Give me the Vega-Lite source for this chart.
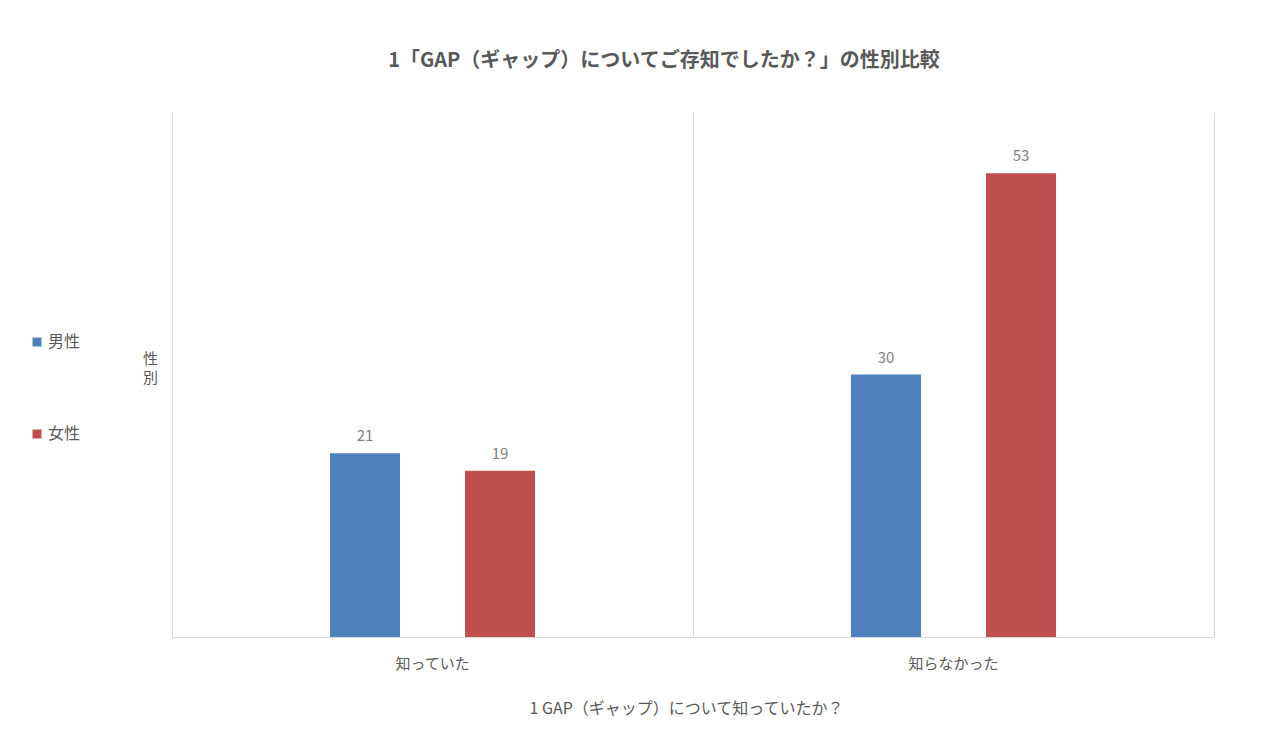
{
  "$schema": "https://vega.github.io/schema/vega-lite/v6.json",
  "autosize": "none",
  "width": 1042,
  "height": 525,
  "padding": {"left": 172, "top": 112, "right": 55, "bottom": 103},
  "background": "white",
  "config": {
    "font": "Noto Sans CJK JP",
    "view": {"stroke": null}
  },
  "title": {
    "text": "1「GAP（ギャップ）についてご存知でしたか？」の性別比較",
    "anchor": "middle",
    "frame": "group",
    "fontSize": 20,
    "fontWeight": "bold",
    "color": "#595959",
    "offset": 41,
    "dx": -29
  },
  "data": {
    "values": [
      {"cat": "知っていた", "sex": "男性", "n": 21},
      {"cat": "知っていた", "sex": "女性", "n": 19},
      {"cat": "知らなかった", "sex": "男性", "n": 30},
      {"cat": "知らなかった", "sex": "女性", "n": 53}
    ]
  },
  "encoding": {
    "x": {
      "field": "cat",
      "type": "nominal",
      "sort": ["知っていた", "知らなかった"],
      "scale": {"paddingInner": 0.0883, "paddingOuter": 0.0442},
      "axis": {
        "title": "1 GAP（ギャップ）について知っていたか？",
        "titleFontSize": 16,
        "titleFontWeight": "normal",
        "titleColor": "#595959",
        "titlePadding": 29,
        "titleX": 514,
        "titleAlign": "center",
        "labelAngle": 0,
        "labelFontSize": 15,
        "labelColor": "#595959",
        "labelPadding": 19,
        "ticks": false,
        "grid": true,
        "gridColor": "#d9d9d9",
        "bandPosition": -0.0484,
        "domainColor": "#d9d9d9"
      }
    },
    "xOffset": {
      "field": "sex",
      "type": "nominal",
      "sort": ["男性", "女性"],
      "scale": {"paddingInner": 0.4815, "paddingOuter": 1}
    }
  },
  "layer": [
    {
      "mark": {"type": "bar"},
      "encoding": {
        "y": {
          "field": "n",
          "type": "quantitative",
          "scale": {"domain": [0, 60], "nice": false},
          "axis": {
            "orient": "left",
            "title": ["性", "別"],
            "titleAngle": 0,
            "titleFontSize": 15,
            "titleFontWeight": "normal",
            "titleColor": "#595959",
            "titleAlign": "center",
            "titleBaseline": "middle",
            "titleLineHeight": 19,
            "titleX": -22,
            "titleY": 246,
            "labels": false,
            "ticks": false,
            "grid": false,
            "domainColor": "#d9d9d9"
          }
        },
        "color": {
          "field": "sex",
          "type": "nominal",
          "sort": ["男性", "女性"],
          "scale": {"domain": ["男性", "女性"], "range": ["#4f81bd", "#c0504d"]},
          "legend": {
            "orient": "none",
            "legendX": -143,
            "legendY": 222,
            "title": null,
            "symbolType": "square",
            "symbolSize": 81,
            "symbolStrokeWidth": 0,
            "labelFontSize": 16,
            "labelColor": "#595959",
            "rowPadding": 76,
            "labelOffset": 3
          }
        }
      }
    },
    {
      "mark": {"type": "text", "baseline": "bottom", "dy": -9, "fontSize": 15, "color": "#7f7f7f"},
      "encoding": {
        "y": {
          "field": "n",
          "type": "quantitative",
          "scale": {"domain": [0, 60], "nice": false},
          "axis": {
            "orient": "right",
            "title": null,
            "labels": false,
            "ticks": false,
            "grid": false,
            "domainColor": "#d9d9d9"
          }
        },
        "text": {"field": "n", "type": "quantitative"}
      }
    }
  ],
  "resolve": {"axis": {"y": "independent"}}
}
